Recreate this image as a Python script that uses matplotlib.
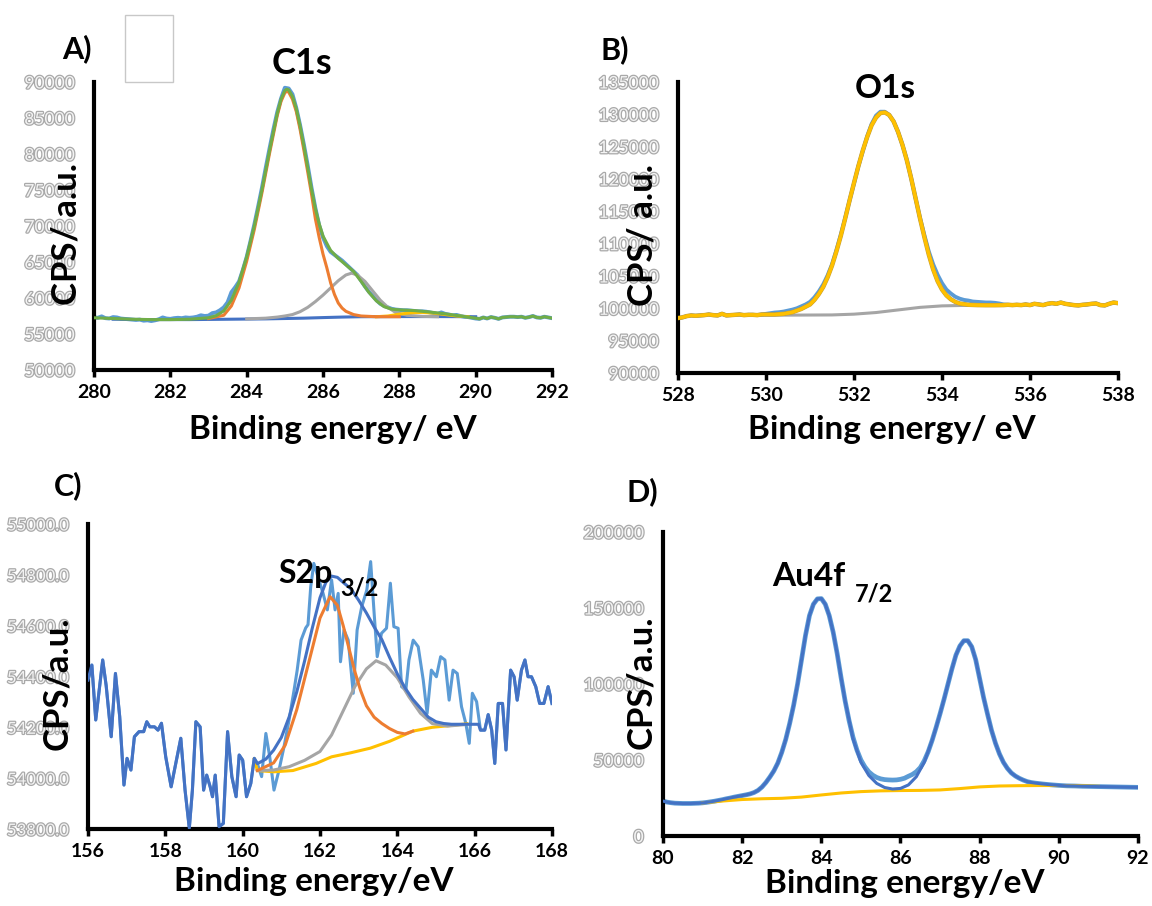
import numpy as np
import matplotlib
matplotlib.use("Agg")
import matplotlib.pyplot as plt
import matplotlib.patheffects as pe
from matplotlib.patches import Rectangle

plt.rcParams['font.family'] = ['Lato', 'DejaVu Sans']

# ---------------- A) C1s ----------------
a_raw_e = np.round(np.arange(280.0, 292.001, 0.1), 2)
a_raw_c = [57300, 57250, 57450, 57200, 57150, 57350, 57300, 57150, 57100, 57050,
           57000, 56950, 57000, 56850, 56900, 56800, 56900, 57050, 57300, 57150,
           57100, 57200, 57250, 57200, 57300, 57250, 57300, 57400, 57600, 57500,
           57550, 57900, 58000, 58300, 58700, 59400, 60800, 61500, 62300, 63900,
           65700, 67900, 70200, 72700, 75300, 78100, 80800, 83400, 85800, 87700,
           89200, 89100, 88300, 86400, 84000, 81300, 78400, 75300, 72500, 70100,
           68400, 67200, 66400, 66000, 65600, 65200, 64700, 64200, 63700, 63200,
           62400, 61600, 60900, 60300, 59700, 59200, 58900, 58700, 58500, 58400,
           58350, 58300, 58300, 58250, 58200, 58150, 58150, 58100, 58000, 57900,
           57800, 58000, 57800, 57700, 57600, 57650, 57500, 57400, 57350, 57250,
           57150, 57100, 57300, 57150, 57350, 57250, 57100, 57300, 57350, 57400,
           57400, 57350, 57400, 57250, 57350, 57500, 57300, 57250, 57400, 57300,
           57200]
a_env_e = [280.0, 280.5, 281.0, 281.5, 282.0, 282.5, 283.0, 283.2, 283.4, 283.6,
           283.8, 284.0, 284.2, 284.4, 284.6, 284.8, 284.9, 285.0, 285.05, 285.1,
           285.2, 285.3, 285.4, 285.5, 285.6, 285.7, 285.8, 285.9, 286.0, 286.2,
           286.4, 286.6, 286.8, 287.0, 287.2, 287.4, 287.6, 287.8, 288.0, 288.4,
           288.8, 289.2, 289.6, 290.0]
a_env_c = [57250, 57150, 57050, 57000, 57000, 57050, 57250, 57550, 58200, 59700,
           62200, 65700, 70000, 75000, 80500, 85600, 87600, 88800, 89000, 88900,
           88000, 86300, 83900, 81100, 78100, 75100, 72400, 70300, 68600, 66600,
           65500, 64600, 63700, 62300, 60800, 59600, 58800, 58450, 58350, 58250,
           58050, 57800, 57500, 57200]
a_c1_e = [283.0, 283.4, 283.6, 283.8, 284.0, 284.2, 284.4, 284.6, 284.8, 284.9,
          285.0, 285.05, 285.1, 285.2, 285.3, 285.4, 285.5, 285.6, 285.7, 285.8,
          285.9, 286.0, 286.1, 286.2, 286.3, 286.4, 286.5, 286.6, 286.8, 287.0,
          287.4, 288.0]
a_c1_c = [57150, 57600, 58900, 61400, 65100, 69500, 74600, 80100, 85300, 87300,
          88500, 88700, 88600, 87600, 85900, 83400, 80500, 77500, 74400, 71000,
          68400, 66100, 64200, 62100, 60500, 59300, 58600, 58150, 57700, 57500,
          57400, 57400]
a_c2_e = [284.0, 284.5, 284.8, 285.0, 285.2, 285.4, 285.6, 285.8, 286.0, 286.2,
          286.4, 286.6, 286.75, 286.9, 287.1, 287.3, 287.5, 287.7, 287.9, 288.2,
          288.6, 289.0]
a_c2_c = [57100, 57200, 57350, 57500, 57700, 58100, 58700, 59500, 60400, 61400,
          62400, 63200, 63450, 63200, 62300, 61000, 59700, 58700, 58000, 57600,
          57450, 57400]
a_c3_e = [287.4, 287.7, 288.0, 288.3, 288.6, 288.9, 289.2, 289.5, 289.8]
a_c3_c = [57400, 57500, 57750, 57950, 58000, 57900, 57700, 57500, 57400]
a_bg_e = [280.5, 281.5, 282.5, 283.5, 284.5, 285.5, 286.0, 286.5, 287.0, 288.0, 289.0, 290.0]
a_bg_c = [57050, 57000, 57000, 57050, 57100, 57200, 57280, 57350, 57400, 57420, 57420, 57400]
a_xticks = [280, 282, 284, 286, 288, 290, 292]
a_yticks = [50000, 55000, 60000, 65000, 70000, 75000, 80000, 85000, 90000]

# ---------------- B) O1s ----------------
b_raw_e = np.round(np.arange(528.0, 538.001, 0.1), 2)
b_raw_c = [98500, 98600, 98800, 98900, 98850, 98900, 98950, 99050, 98950, 98900,
           99150, 98900, 98950, 99000, 99050, 98950, 99000, 99000, 98950, 99050,
           99150, 99250, 99350, 99400, 99500, 99650, 99800, 100000, 100300, 100600,
           101000, 101700, 102600, 103700, 105100, 106800, 109000, 111400, 114000, 116700,
           119300, 122000, 124300, 126600, 128500, 129800, 130400, 130400, 129900, 128900,
           127300, 125300, 123000, 120100, 117000, 114000, 111300, 108800, 106800, 105200,
           103900, 102900, 102300, 101800, 101500, 101300, 101200, 101050, 101000, 100950,
           100900, 100900, 100850, 100750, 100600, 100550, 100500, 100550, 100500, 100600,
           100500, 100700, 100600, 100500, 100700, 100800, 100700, 100900, 100700, 100600,
           100500, 100450, 100550, 100600, 100700, 100750, 100500, 100450, 100700, 100900,
           100800]
b_fit_e = [530.0, 530.2, 530.4, 530.6, 530.8, 530.9, 531.0, 531.1, 531.2, 531.3,
           531.4, 531.5, 531.6, 531.7, 531.8, 531.9, 532.0, 532.1, 532.2, 532.3,
           532.4, 532.5, 532.6, 532.7, 532.8, 532.9, 533.0, 533.1, 533.2, 533.3,
           533.4, 533.5, 533.6, 533.7, 533.8, 533.9, 534.0, 534.1, 534.2, 534.3,
           534.4, 534.6, 534.8, 535.0, 535.2, 535.4]
b_fit_c = [99050, 99050, 99150, 99400, 99900, 100250, 100600, 101300, 102200, 103300,
           104800, 106600, 108800, 111200, 113900, 116700, 119400, 122000, 124400, 126500,
           128300, 129500, 130200, 130300, 129900, 128900, 127300, 125300, 122900, 120100,
           117000, 113900, 111000, 108300, 106000, 104200, 102900, 102000, 101400, 101000,
           100750, 100550, 100500, 100480, 100480, 100500]
b_bg_e = [529.5, 530.5, 531.5, 532.0, 532.5, 533.0, 533.5, 534.0, 534.5, 535.0, 535.5]
b_bg_c = [98950, 98950, 98980, 99100, 99350, 99750, 100150, 100380, 100450, 100470, 100480]
b_xticks = [528, 530, 532, 534, 536, 538]
b_yticks = [90000, 95000, 100000, 105000, 110000, 115000, 120000, 125000, 130000, 135000]

# ---------------- C) S2p ----------------
c_raw_e = [156.00, 156.10, 156.20, 156.38, 156.47, 156.60, 156.71, 156.82, 156.93, 157.01,
           157.11, 157.20, 157.32, 157.44, 157.52, 157.60, 157.72, 157.81, 157.90, 158.01,
           158.15, 158.27, 158.40, 158.51, 158.62, 158.70, 158.79, 158.90, 158.99, 159.07,
           159.16, 159.22, 159.29, 159.39, 159.50, 159.61, 159.72, 159.83, 159.91, 160.00,
           160.10, 160.21, 160.30, 160.38, 160.49, 160.60, 160.70, 160.81, 160.94, 161.07,
           161.20, 161.33, 161.41, 161.51, 161.63, 161.69, 161.76, 161.84, 162.08, 162.19,
           162.30, 162.39, 162.47, 162.53, 162.62, 162.73, 162.86, 162.96, 163.08, 163.21,
           163.31, 163.40, 163.48, 163.59, 163.72, 163.82, 163.91, 164.02, 164.11, 164.22,
           164.30, 164.41, 164.54, 164.67, 164.77, 164.88, 165.01, 165.12, 165.23, 165.34,
           165.44, 165.55, 165.66, 165.77, 165.86, 165.94, 166.05, 166.15, 166.26, 166.35,
           166.44, 166.52, 166.61, 166.72, 166.81, 166.93, 167.02, 167.10, 167.21, 167.30,
           167.38, 167.47, 167.58, 167.68, 167.79, 167.90, 168.00]
c_raw_c = [54386, 54445, 54229, 54465, 54364, 54163, 54412, 54242, 53973, 54078,
           54032, 54163, 54183, 54183, 54222, 54202, 54202, 54189, 54216, 54084,
           53966, 54058, 54157, 53953, 53803, 53953, 54222, 54202, 53953, 54012,
           53966, 53927, 54012, 53809, 53822, 54183, 54006, 53927, 54091, 54071,
           53927, 53979, 54078, 54057, 54006, 54176, 54084, 53953, 54032, 54124,
           54229, 54347, 54425, 54543, 54591, 54604, 54753, 54845, 54727, 54662,
           54780, 54662, 54727, 54458, 54583, 54543, 54334, 54583, 54675, 54740,
           54852, 54649, 54478, 54570, 54590, 54767, 54596, 54590, 54360, 54347,
           54465, 54543, 54517, 54386, 54255, 54425, 54399, 54478, 54465, 54307,
           54425, 54412, 54281, 54216, 54137, 54334, 54301, 54189, 54189, 54250,
           54189, 54058, 54294, 54294, 54111, 54425, 54399, 54307, 54425, 54465,
           54399, 54399, 54360, 54294, 54294, 54360, 54294]
c_env_e = [160.38, 160.6, 160.8, 161.0, 161.2, 161.4, 161.6, 161.8, 162.0, 162.15,
           162.3, 162.45, 162.6, 162.8, 163.0, 163.2, 163.4, 163.6, 163.8, 164.0,
           164.2, 164.4, 164.6, 164.8, 165.0, 165.2, 165.4, 165.6, 165.8, 166.1]
c_env_c = [54057, 54075, 54110, 54160, 54240, 54340, 54460, 54590, 54710, 54770,
           54795, 54790, 54770, 54745, 54700, 54650, 54595, 54545, 54475, 54410,
           54355, 54310, 54275, 54240, 54222, 54215, 54212, 54212, 54212, 54212]
c_c1_e = [160.38, 160.8, 161.1, 161.4, 161.7, 162.0, 162.26, 162.45, 162.6, 162.75,
          162.9, 163.05, 163.2, 163.4, 163.6, 163.8, 164.0, 164.2, 164.4]
c_c1_c = [54030, 54060, 54130, 54270, 54450, 54630, 54714, 54680, 54600, 54510,
          54420, 54345, 54285, 54240, 54215, 54195, 54180, 54174, 54185]
c_c2_e = [160.38, 160.8, 161.2, 161.6, 162.0, 162.3, 162.6, 162.9, 163.2, 163.45,
          163.7, 164.0, 164.3, 164.6, 164.9, 165.3, 165.7]
c_c2_c = [54030, 54032, 54045, 54070, 54105, 54170, 54265, 54360, 54430, 54462,
          54445, 54395, 54320, 54255, 54215, 54205, 54210]
c_bg_e = [160.3, 160.38, 160.8, 161.3, 161.9, 162.3, 162.8, 163.3, 163.8, 164.1,
          164.4, 164.9, 165.3, 165.8]
c_bg_c = [54075, 54030, 54025, 54030, 54058, 54084, 54100, 54118, 54145, 54165,
          54185, 54200, 54206, 54214]
c_xticks = [156, 158, 160, 162, 164, 166, 168]
c_yticks = [53800, 54000, 54200, 54400, 54600, 54800, 55000]

# ---------------- D) Au4f ----------------
d_raw_e = np.round(np.arange(80.0, 92.001, 0.1), 2)
d_raw_c = [23000, 22300, 21900, 21600, 21500, 21400, 21400, 21400, 21500, 21600,
           21800, 22100, 22500, 22900, 23400, 23900, 24500, 25000, 25600, 26100,
           26600, 27100, 27700, 28600, 30000, 32200, 35200, 38800, 42800, 48000,
           55000, 63500, 74000, 86000, 100000, 116000, 132000, 145000, 152500, 156000,
           156200, 152500, 145000, 134000, 120000, 104000, 89000, 76000, 65000, 56500,
           50000, 45500, 42200, 40000, 38500, 37600, 37100, 36900, 36800, 36900,
           37300, 38000, 39300, 40500, 42300, 45000, 49500, 55500, 63000, 71500,
           80500, 90000, 100000, 110000, 119000, 125000, 128500, 128500, 124500, 116000,
           103500, 91000, 80000, 69500, 61000, 54000, 48500, 44500, 41500, 39500,
           38000, 36800, 35800, 35200, 34800, 34500, 34200, 33950, 33700, 33500,
           33300, 33150, 33000, 32950, 32900, 32800, 32700, 32650, 32600, 32550,
           32500, 32450, 32400, 32350, 32300, 32250, 32200, 32150, 32100, 32050,
           32000]
d_fit_e = [84.6, 84.8, 85.0, 85.2, 85.4, 85.6, 85.8, 86.0, 86.2, 86.4, 86.6, 86.8]
d_fit_c = [89000, 64000, 48500, 39800, 34600, 31900, 30900, 31300, 33600, 39000, 48500, 63000]
d_bg_e = [81.0, 81.5, 82.0, 82.5, 83.0, 83.5, 84.0, 84.5, 85.0, 85.5, 86.0,
          86.5, 87.0, 87.5, 88.0, 88.5, 89.0, 89.5, 90.0, 90.5, 91.0]
d_bg_c = [21800, 23000, 24000, 24500, 24800, 25600, 27000, 28300, 29200, 29700, 29900,
          30000, 30300, 31200, 32300, 32900, 33100, 33200, 33200, 33100, 32700]
d_xticks = [80, 82, 84, 86, 88, 90, 92]
d_yticks = [0, 50000, 100000, 150000, 200000]

RAW = '#5b9bd5'
DARK = '#4472c4'
ORANGE = '#ed7d31'
GRAY = '#a5a5a5'
YELLOW = '#ffc000'
GREEN = '#70ad47'

W, H = 1152, 906
fig = plt.figure(figsize=(W / 100, H / 100), dpi=100)
fig.patch.set_facecolor('white')


def add_axes_px(left, right, top, bottom):
    return fig.add_axes([left / W, 1 - bottom / H, (right - left) / W, (bottom - top) / H])


def style(ax, xticks, yticks, ylabels, ysize=12.5):
    ax.set_xlim(xticks[0], xticks[-1])
    ax.set_ylim(yticks[0], yticks[-1])
    for s in ('top', 'right'):
        ax.spines[s].set_visible(False)
    for s in ('left', 'bottom'):
        ax.spines[s].set_linewidth(3)
        ax.spines[s].set_color('black')
    ax.set_xticks(xticks)
    ax.set_xticklabels([str(t) for t in xticks], fontsize=14, fontweight='bold')
    ax.tick_params(axis='x', direction='out', length=5, width=2.5, pad=5, colors='black')
    ax.set_yticks(yticks)
    ax.set_yticklabels(ylabels, fontsize=ysize, color='#f3f3f3')
    for lab in ax.get_yticklabels():
        lab.set_path_effects([pe.withStroke(linewidth=1.8, foreground='#a9a9a9')])
    ax.tick_params(axis='y', length=0, pad=14)
    ax.patch.set_alpha(0)


def ftext(x, y, s, size, **kw):
    fig.text(x / W, 1 - y / H, s, fontsize=size, fontweight='bold', color='black',
             ha=kw.pop('ha', 'center'), va=kw.pop('va', 'center'), **kw)


LW = 2.2

# Panel A
axA = add_axes_px(94, 552, 82, 370)
a_raw_c_arr = np.array(a_raw_c)
axA.plot(a_raw_e, a_raw_c, color=RAW, lw=LW + 0.6, zorder=2)
axA.plot(a_bg_e, a_bg_c, color=DARK, lw=LW, zorder=3)
axA.plot(a_c2_e, a_c2_c, color=GRAY, lw=LW, zorder=4)
axA.plot(a_c1_e, a_c1_c, color=ORANGE, lw=LW, zorder=5)
axA.plot(a_c3_e, a_c3_c, color=YELLOW, lw=LW, zorder=4)
tail = a_raw_e > 290.05
axA.plot(np.concatenate([a_env_e, a_raw_e[tail]]),
         np.concatenate([a_env_c, a_raw_c_arr[tail]]), color=GREEN, lw=LW, zorder=6)
style(axA, a_xticks, a_yticks, [str(v) for v in a_yticks])

# Panel B
axB = add_axes_px(678, 1118, 82, 373)
b_raw_c_arr = np.array(b_raw_c)
axB.plot(b_raw_e, b_raw_c, color=RAW, lw=LW + 0.6, zorder=2)
axB.plot(b_bg_e, b_bg_c, color=GRAY, lw=LW, zorder=3)
left = b_raw_e < 529.95
right = b_raw_e > 535.45
axB.plot(np.concatenate([b_raw_e[left], b_fit_e, b_raw_e[right]]),
         np.concatenate([b_raw_c_arr[left], b_fit_c, b_raw_c_arr[right]]),
         color=YELLOW, lw=LW, zorder=4,
         path_effects=[pe.withStroke(linewidth=LW + 1.0, foreground='#c8a030'), pe.Normal()])
style(axB, b_xticks, b_yticks, [str(v) for v in b_yticks])

# Panel C
axC = add_axes_px(88, 552, 524, 829)
c_raw_e_arr = np.array(c_raw_e)
c_raw_c_arr = np.array(c_raw_c)
axC.plot(c_raw_e, c_raw_c, color=RAW, lw=LW, zorder=2)
axC.plot(c_bg_e, c_bg_c, color=YELLOW, lw=LW, zorder=3)
axC.plot(c_c2_e, c_c2_c, color=GRAY, lw=LW, zorder=4)
axC.plot(c_c1_e, c_c1_c, color=ORANGE, lw=LW, zorder=5)
lo = c_raw_e_arr < 160.37
hi = c_raw_e_arr > 166.12
axC.plot(np.concatenate([c_raw_e_arr[lo], c_env_e, c_raw_e_arr[hi]]),
         np.concatenate([c_raw_c_arr[lo], c_env_c, c_raw_c_arr[hi]]),
         color=DARK, lw=LW, zorder=6)
style(axC, c_xticks, c_yticks, ['%.1f' % v for v in c_yticks], ysize=12)

# Panel D
axD = add_axes_px(663, 1138, 532, 836)
d_raw_c_arr = np.array(d_raw_c)
axD.plot(d_raw_e, d_raw_c, color=RAW, lw=LW + 1.2, zorder=2)
axD.plot(d_bg_e, d_bg_c, color=YELLOW, lw=LW, zorder=3)
lo = d_raw_e < 84.55
hi = d_raw_e > 86.85
axD.plot(np.concatenate([d_raw_e[lo], d_fit_e, d_raw_e[hi]]),
         np.concatenate([d_raw_c_arr[lo], d_fit_c, d_raw_c_arr[hi]]),
         color=DARK, lw=LW, zorder=4)
style(axD, d_xticks, d_yticks, [str(v) for v in d_yticks])

# Panel letters, peak names and axis titles
ftext(77, 49, 'A)', 22)
ftext(615, 50, 'B)', 22)
ftext(68, 486, 'C)', 22)
ftext(642, 492, 'D)', 22)

ftext(302, 63, 'C1s', 26)
ftext(885, 88, 'O1s', 24)
ftext(278, 573, 'S2p', 23, ha='left')
ftext(340, 588, '3/2', 17, ha='left')
ftext(772, 576, 'Au4f', 24, ha='left')
ftext(855, 594, '7/2', 17, ha='left')

ftext(67, 234, 'CPS/ a.u.', 25, rotation=90)
ftext(643, 235, 'CPS/ a.u.', 25, rotation=90)
ftext(57, 683, 'CPS/a.u.', 25, rotation=90)
ftext(641, 682, 'CPS/a.u.', 25, rotation=90)

ftext(333, 430, 'Binding energy/ eV', 24)
ftext(892, 430, 'Binding energy/ eV', 24)
ftext(314, 882, 'Binding energy/eV', 24)
ftext(905, 883, 'Binding energy/eV', 24)

fig.patches.append(Rectangle((125 / W, 1 - 82 / H), 48 / W, 67 / H, transform=fig.transFigure,
                             fill=False, edgecolor='#c8c8c8', lw=1.0))

fig.savefig('out.png', dpi=100)
